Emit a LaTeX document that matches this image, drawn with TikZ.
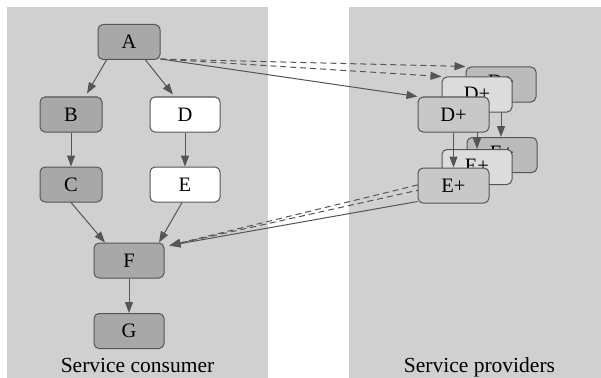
\documentclass[tikz,border=0pt]{standalone}
\usepackage{fontspec}
\setmainfont{Liberation Serif}
\usetikzlibrary{arrows.meta,calc}
\definecolor{panelc}{HTML}{D0D0D0}
\definecolor{edgec}{HTML}{555555}
\definecolor{grayc}{HTML}{A8A8A8}
\definecolor{backc}{HTML}{BBBBBB}
\definecolor{midc}{HTML}{DCDCDC}
\definecolor{frontc}{HTML}{C8C8C8}
\tikzset{
  box/.style={draw=edgec, line width=1pt, rounded corners=5pt, minimum height=35pt,
    inner sep=0pt, font=\fontsize{20.5}{20.5}\selectfont},
  narrow/.style={box, minimum width=62pt},
  wide/.style={box, minimum width=70pt},
  conn/.style={draw=edgec, line width=1pt, -{Triangle[length=11pt,width=8pt]}},
  dconn/.style={conn, dash pattern=on 6pt off 4pt},
  lbl/.style={anchor=base, font=\fontsize{21.5}{21.5}\selectfont},
}
\begin{document}
\begin{tikzpicture}[x=1pt,y=-1pt]
\useasboundingbox (0,0) rectangle (601,377);
\clip (0,0) rectangle (601,377);
\fill[white] (0,0) rectangle (601,377);
\fill[panelc] (7,7) rectangle (268,390);
\fill[panelc] (349,7) rectangle (620,390);
\node[lbl] (lc) at (137.5,372) {Service consumer};
\node[lbl] (lp) at (479.5,372) {Service providers};

% left graph
\node[narrow, fill=grayc] (A) at (129,42) {A};
\node[narrow, fill=grayc] (B) at (71,114.5) {B};
\node[narrow, fill=grayc] (C) at (71,184.5) {C};
\node[wide, fill=white] (D) at (185,114.5) {D};
\node[wide, fill=white] (E) at (185,184.5) {E};
\node[wide, fill=grayc] (F) at (129,260.5) {F};
\node[wide, fill=grayc] (G) at (129,331) {G};

\draw[conn] ([xshift=9pt]A.south west) -- ([xshift=16pt,yshift=3pt]B.north);
\draw[conn] ([xshift=-15pt]A.south east) -- ([xshift=-12pt,yshift=2pt]D.north);
\draw[conn] (B.south) -- (C.north);
\draw[conn] (D.south) -- (E.north);
\draw[conn] (C.south) -- ([xshift=-24pt]F.north);
\draw[conn] ([xshift=-3pt]E.south) -- ([xshift=30pt]F.north);
\draw[conn] (F.south) -- (G.north);

% right graph: back layer
\node[wide, fill=backc] (Db) at (501,84.5) {\raisebox{4.5pt}{D+}};
\node[wide, fill=backc] (Eb) at (502,155) {\raisebox{4.5pt}{E+}};
\draw[dconn] (Eb.south west) -- ([xshift=5pt,yshift=-3pt]F.north east);
\draw[conn] (Db.south) -- (Db.south |- Eb.north);
% middle layer
\node[wide, fill=midc] (Dm) at (477,94.5) {\raisebox{2pt}{D+}};
\node[wide, fill=midc] (Em) at (477,167) {\raisebox{2pt}{E+}};
\draw[dconn] (Em.south west) -- ([xshift=5pt,yshift=-3pt]F.north east);
\draw[conn] (Dm.south) -- (Dm.south |- Em.north);
% front layer
\node[wide, minimum width=71pt, fill=frontc] (Df) at (453.5,114.5) {D+};
\node[wide, minimum width=71pt, fill=frontc] (Ef) at (453.5,185.5) {E+};
\draw[conn] ([yshift=2pt]Ef.south west) -- ([xshift=5pt,yshift=-3pt]F.north east);
\draw[conn] (Df.south) -- (Df.south |- Ef.north);

% edges from A to providers
\draw[dconn] ([yshift=1pt]A.south east) -- (Db.north west);
\draw[dconn] ([yshift=1pt]A.south east) -- (Dm.north west);
\draw[conn] ([yshift=1pt]A.south east) -- (Df.north west);
\end{tikzpicture}
\end{document}
